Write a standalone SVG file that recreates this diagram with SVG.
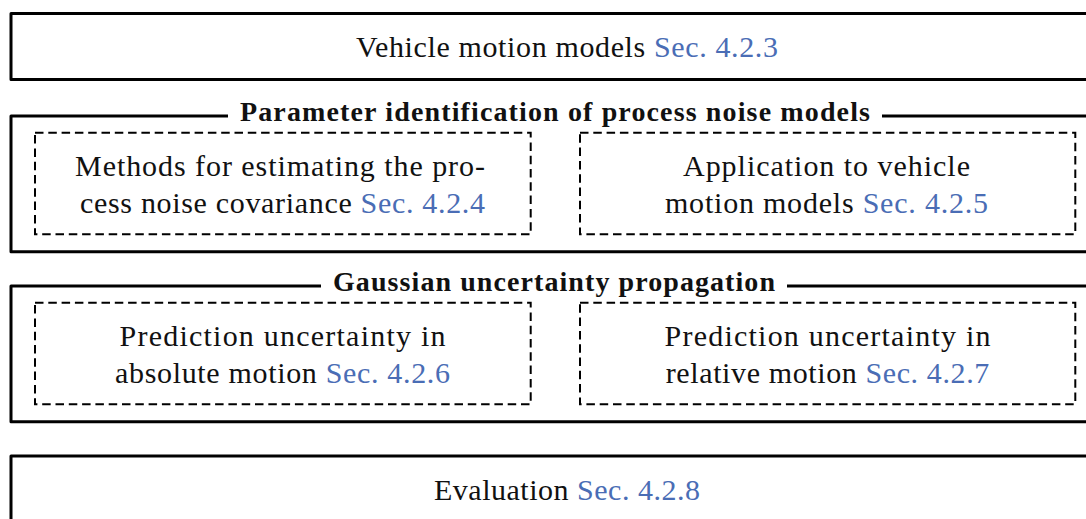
<svg xmlns="http://www.w3.org/2000/svg" width="1086" height="519" viewBox="0 0 1086 519">
  <style>
    .frame { fill: none; stroke: #000; stroke-width: 3; stroke-linejoin: round; }
    .sub { fill: none; stroke: #000; stroke-width: 2; stroke-dasharray: 8.5 4.8; }
    .txt { font-family: "Liberation Serif", "DejaVu Serif", serif; font-size: 30px; fill: #111; text-anchor: middle; }
    .ttl { font-family: "Liberation Serif", "DejaVu Serif", serif; font-size: 28px; font-weight: bold; fill: #111; text-anchor: middle; }
    .ref { fill: #4a6db5; }
  </style>

  <!-- Vehicle motion models -->
  <g id="motion-models">
    <rect class="frame" x="11" y="13.5" width="1112" height="66"/>
    <text class="txt" x="567" y="57.3" textLength="422" lengthAdjust="spacing">Vehicle motion models <tspan class="ref">Sec. 4.2.3</tspan></text>
  </g>

  <!-- Parameter identification group -->
  <g id="param-ident">
    <path class="frame" d="M228,116 H11 V251.7 H1099 V116 H882"/>
    <text class="ttl" x="555" y="121" textLength="630" lengthAdjust="spacing">Parameter identification of process noise models</text>
  </g>
  <g id="noise-cov-methods">
    <rect class="sub" x="35" y="132.7" width="495.7" height="101.6"/>
    <text class="txt" x="280" y="175.5" textLength="410" lengthAdjust="spacing">Methods for estimating the pro-</text>
    <text class="txt" x="282.5" y="212.5" textLength="405" lengthAdjust="spacing">cess noise covariance <tspan class="ref">Sec. 4.2.4</tspan></text>
  </g>
  <g id="noise-application">
    <rect class="sub" x="580" y="132.7" width="495.3" height="101.6"/>
    <text class="txt" x="826.5" y="175.5" textLength="287" lengthAdjust="spacing">Application to vehicle</text>
    <text class="txt" x="826.5" y="212.5" textLength="323" lengthAdjust="spacing">motion models <tspan class="ref">Sec. 4.2.5</tspan></text>
  </g>

  <!-- Gaussian uncertainty propagation group -->
  <g id="gauss-prop">
    <path class="frame" d="M321,286 H11 V421.7 H1099 V286 H787"/>
    <text class="ttl" x="554" y="291" textLength="442" lengthAdjust="spacing">Gaussian uncertainty propagation</text>
  </g>
  <g id="abs-motion">
    <rect class="sub" x="35" y="302.7" width="495.7" height="101.6"/>
    <text class="txt" x="282.5" y="345.5" textLength="326" lengthAdjust="spacing">Prediction uncertainty in</text>
    <text class="txt" x="282.5" y="382.5" textLength="335" lengthAdjust="spacing">absolute motion <tspan class="ref">Sec. 4.2.6</tspan></text>
  </g>
  <g id="rel-motion">
    <rect class="sub" x="580" y="302.7" width="495.3" height="101.6"/>
    <text class="txt" x="827.5" y="345.5" textLength="326" lengthAdjust="spacing">Prediction uncertainty in</text>
    <text class="txt" x="827.5" y="382.5" textLength="323.5" lengthAdjust="spacing">relative motion <tspan class="ref">Sec. 4.2.7</tspan></text>
  </g>

  <!-- Evaluation -->
  <g id="evaluation">
    <rect class="frame" x="11" y="456" width="1112" height="66"/>
    <text class="txt" x="567" y="499.8" textLength="266" lengthAdjust="spacing">Evaluation <tspan class="ref">Sec. 4.2.8</tspan></text>
  </g>

  <g id="connectors"/>
</svg>
